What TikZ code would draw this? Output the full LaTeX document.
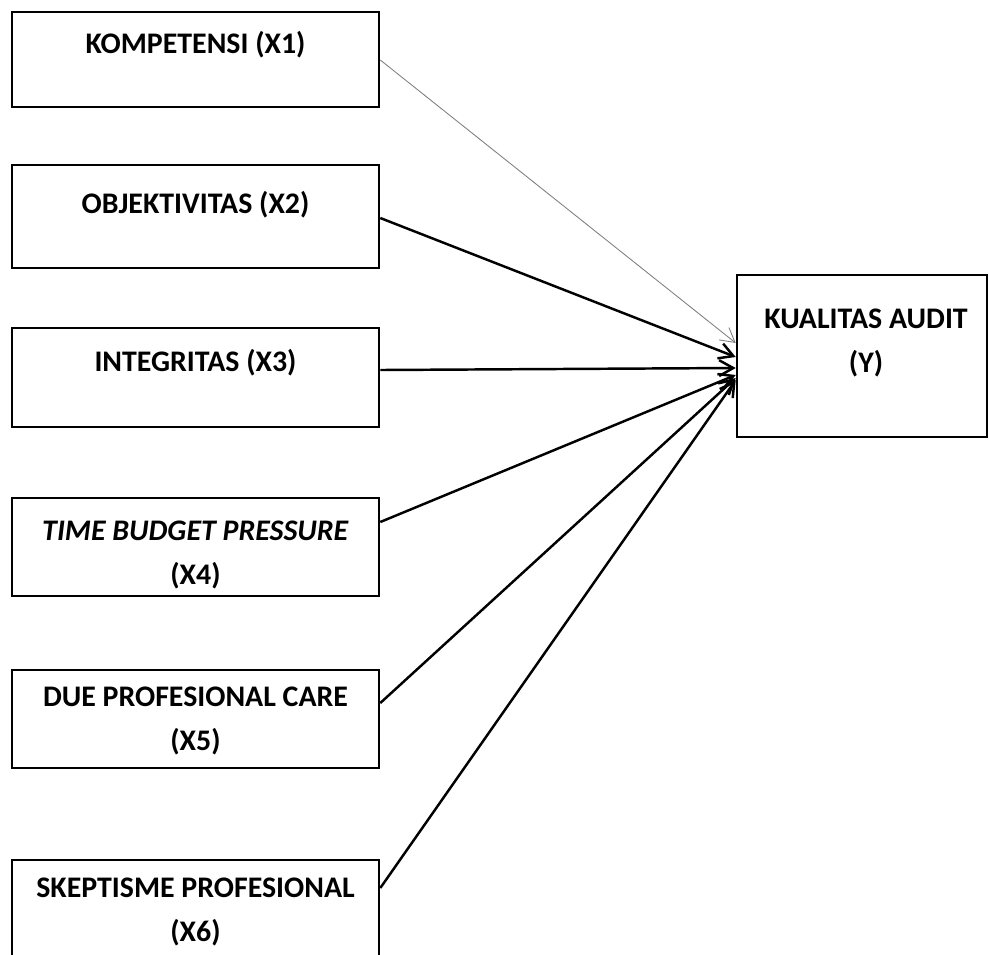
\documentclass[tikz,border=0pt]{standalone}
\usepackage{fontspec}
\setmainfont{Carlito}
\usetikzlibrary{arrows.meta}
\tikzstyle{var}=[draw=black,line width=1.5pt,shape=rectangle,minimum width=7.34cm,inner sep=0pt]
\tikzstyle{lbl}=[font=\bfseries\fontsize{17}{25}\selectfont,align=center,inner sep=0pt]
\tikzstyle{arr}=[line width=1.4pt,-{Straight Barb[length=8pt,width=9pt]}]

\begin{document}
\begin{tikzpicture}[x=0.02cm,y=-0.02cm]
	\useasboundingbox (0,0) rectangle (989,954);
	% boxes
	\node (b1) [var,minimum height=1.90cm] at (195.5,59.5) {};
	\node (b2) [var,minimum height=2.06cm] at (195.5,216.5) {};
	\node (b3) [var,minimum height=1.98cm] at (195.5,377.5) {};
	\node (b4) [var,minimum height=1.96cm] at (195.5,547) {};
	\node (b5) [var,minimum height=1.96cm] at (195.5,719) {};
	\node (b6) [var,minimum height=2.00cm] at (195.5,910) {};
	\node (y) [var,minimum width=5cm,minimum height=3.24cm] at (862,356) {};
	% texts
	\node (t1) [lbl] at (195.5,45) {KOMPETENSI (X1)};
	\node (t2) [lbl] at (195.5,205) {OBJEKTIVITAS (X2)};
	\node (t3) [lbl] at (195.5,363) {INTEGRITAS (X3)};
	\node (t4) [lbl] at (195.5,555) {\textit{TIME BUDGET PRESSURE}\\(X4)};
	\node (t5) [lbl] at (195.5,721) {DUE PROFESIONAL CARE\\(X5)};
	\node (t6) [lbl] at (195.5,912) {SKEPTISME PROFESIONAL\\(X6)};
	\node (ty) [lbl] at (866,343) {KUALITAS AUDIT\\(Y)};
	% arrows
	\draw[arr,line width=0.5pt,gray] ([yshift=-0.01cm]b1.east) -- ([yshift=0.26cm]y.west);
	\draw[arr] ([yshift=-0.03cm]b2.east) -- ([yshift=-0.02cm]y.west);
	\draw[arr] ([yshift=0.15cm]b3.east) -- ([yshift=-0.24cm]y.west);
	\draw[arr] ([yshift=0.5cm]b4.east) -- ([yshift=-0.38cm]y.west);
	\draw[arr] ([yshift=0.32cm]b5.east) -- ([yshift=-0.44cm]y.west);
	\draw[arr] ([yshift=0.44cm]b6.east) -- ([yshift=-0.48cm]y.west);
\end{tikzpicture}
\end{document}
